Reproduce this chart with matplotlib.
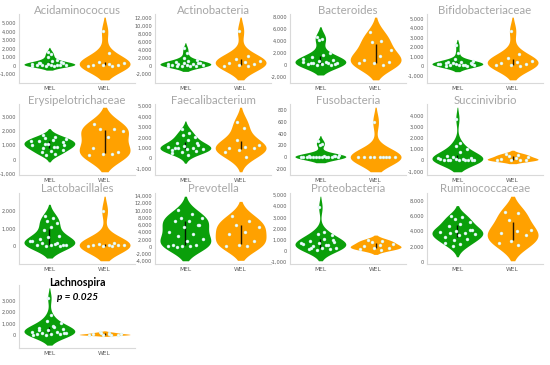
import numpy as np
import pandas as pd
import matplotlib
matplotlib.use("Agg")
import matplotlib.pyplot as plt
from matplotlib.ticker import FuncFormatter
import seaborn as sns

taxa = ["Acidaminococcus", "Actinobacteria", "Bacteroides", "Bifidobacteriaceae",
        "Erysipelotrichaceae", "Faecalibacterium", "Fusobacteria", "Succinivibrio",
        "Lactobacillales", "Prevotella", "Proteobacteria", "Ruminococcaceae",
        "Lachnospira"]
groups = ["MEL", "WEL"]

mel_values = [
    [1600, 1300, 1000, 700, 500, 300, 250, 200, 150, 100, 100, 80, 50, 30, 20, 10, 0, 0, 300, 400],
    [4500, 3300, 2000, 1500, 1200, 1000, 800, 700, 600, 500, 400, 300, 200, 200, 100, 100, 50, 0, 0, 800],
    [4600, 4300, 4200, 1900, 1600, 1300, 800, 600, 400, 300, 200, 200, 100, 50, 0, 0, 1000, 500, 250, 150],
    [2200, 1400, 700, 500, 400, 300, 300, 200, 200, 150, 100, 100, 50, 0, 0, 300, 200, 100, 400, 250],
    [1700, 1600, 1500, 1400, 1350, 1300, 1200, 1100, 1000, 900, 800, 700, 600, 500, 400, 1100, 1300, 900, 300, 1000],
    [2800, 2400, 2200, 2000, 1800, 1500, 1300, 1200, 1100, 1000, 1000, 900, 900, 800, 700, 600, 500, 300, 1000, 1500],
    [270, 230, 200, 30, 20, 20, 15, 10, 10, 5, 5, 0, 0, 0, 0, 0, 0, 0, 10, 20],
    [3700, 1500, 1300, 1000, 700, 400, 200, 100, 100, 50, 0, 0, 0, 0, 0, 300, 200, 100, 50, 10],
    [1700, 1600, 1400, 1300, 1100, 900, 600, 500, 300, 200, 200, 100, 100, 50, 0, 0, 300, 150, 400, 50],
    [10000, 9000, 8000, 7800, 7200, 7200, 6000, 5500, 4000, 3500, 3000, 2000, 1500, 500, 400, 300, 200, 100, 0, 6000],
    [3900, 1700, 1500, 1400, 1100, 900, 800, 700, 600, 500, 400, 300, 300, 200, 200, 100, 700, 500, 300, 1000],
    [6000, 5900, 5600, 5200, 5000, 4700, 4200, 4000, 3900, 3800, 3700, 3600, 3500, 3300, 3000, 2800, 2500, 2300, 2000, 4100],
    [3200, 1700, 1200, 1000, 800, 600, 500, 400, 300, 300, 200, 200, 100, 100, 50, 0, 0, 700, 400, 150],
]
wel_values = [
    [4000, 1500, 400, 300, 200, 100, 100, 50, 0, 0],
    [8800, 2600, 1800, 1200, 1000, 800, 500, 200, 100, 0],
    [5400, 4000, 3800, 2400, 1500, 800, 400, 300, 200, 0],
    [3700, 1300, 800, 500, 400, 300, 200, 100, 50, 0],
    [2500, 2100, 2100, 2000, 1600, 800, 500, 400, 300, 400],
    [3500, 2900, 1800, 1300, 1100, 1000, 1000, 800, 600, 100],
    [600, 10, 5, 5, 0, 0, 0, 0, 0, 0],
    [600, 500, 400, 300, 200, 100, 50, 0, 0, 0],
    [2000, 200, 150, 100, 100, 50, 50, 0, 0, 0],
    [8500, 7000, 6000, 5500, 4000, 3500, 1500, 500, 300, 200],
    [1000, 900, 800, 600, 500, 400, 300, 250, 200, 100],
    [6500, 6400, 5500, 4200, 4000, 3800, 3500, 2700, 2400, 2200],
    [250, 200, 150, 100, 80, 50, 30, 20, 10, 0],
]
# y tick (start, stop, step)
yticks = [
    (-1000, 5000, 1000), (-2000, 12000, 2000), (-2000, 8000, 2000), (-1000, 5000, 1000),
    (-1000, 3000, 1000), (-1000, 5000, 1000), (-200, 800, 200), (-1000, 4000, 1000),
    (0, 2000, 1000), (-4000, 14000, 2000), (-1000, 5000, 1000), (0, 8000, 2000),
    (0, 3000, 1000),
]
p_label = "p = 0.025"

colors = {"MEL": "#0A9F0A", "WEL": "#FFA100"}
VW = 0.92
BWA = 1.2
CUT = 1.75

W, H = 550, 365
fig = plt.figure(figsize=(W / 100, H / 100), dpi=100)

col_left = [19, 155, 290, 427]
col_w = 116
rows = [(14, 83), (104, 175), (193, 264), (285, 348)]

fmt = FuncFormatter(lambda v, p: f"{int(v):,}")


def rel_density(vals, at):
    n = len(vals)
    bw = BWA * n ** (-1 / 5) * np.std(vals, ddof=1)
    grid = np.linspace(vals.min() - CUT * bw, vals.max() + CUT * bw, 400)
    d = lambda x: np.exp(-0.5 * ((np.asarray(x)[:, None] - vals[None, :]) / bw) ** 2).sum(1)
    return d(at) / d(grid).max()


for i, name in enumerate(taxa):
    r, c = divmod(i, 4)
    top, bot = rows[r]
    ax = fig.add_axes([col_left[c] / W, 1 - bot / H, col_w / W, (bot - top) / H])
    df = pd.DataFrame({
        "g": ["MEL"] * len(mel_values[i]) + ["WEL"] * len(wel_values[i]),
        "v": mel_values[i] + wel_values[i],
    })
    sns.violinplot(data=df, x="g", y="v", hue="g", order=groups, hue_order=groups,
                   palette=colors, inner=None, density_norm="width", cut=CUT,
                   bw_adjust=BWA, width=VW, linewidth=0, saturation=1, legend=False, ax=ax)
    for k, g in enumerate(groups):
        vals = np.array(mel_values[i] if g == "MEL" else wel_values[i], dtype=float)
        q1, q3 = np.percentile(vals, [25, 75])
        ax.plot([k, k], [q1, q3], color="black", lw=1.0, solid_capstyle="butt", zorder=3,
                alpha=0.85)
        n = len(vals)
        u = ((np.arange(n) * 0.6180339 + 0.13) % 1 - 0.5) * 2
        offs = u * 0.8 * (VW / 2) * rel_density(vals, vals)
        ax.scatter(k + offs, vals, s=4.5, facecolor="#f4ffff", edgecolor="#c8eeee",
                   linewidth=0.3, zorder=4)
    s0, s1, st = yticks[i]
    ax.set_yticks(np.arange(s0, s1 + st, st))
    ax.yaxis.set_major_formatter(fmt)
    ax.set_xlim(-0.55, 1.55)
    ax.set_xlabel("")
    ax.set_ylabel("")
    ax.tick_params(axis="both", length=0, labelsize=3.6, labelcolor="#595959", pad=2)
    ax.tick_params(axis="x", labelsize=4.2, pad=2)
    for sp in ["top", "right"]:
        ax.spines[sp].set_visible(False)
    for sp in ["left", "bottom"]:
        ax.spines[sp].set_color("#D9D9D9")
        ax.spines[sp].set_linewidth(0.8)
    ax.set_facecolor("none")
    cx = (col_left[c] + col_w / 2) / W
    if name == "Lachnospira":
        fig.text(cx, 1 - 283 / H, name, ha="center", va="center",
                 fontsize=7.6, fontweight="bold", color="black", family="Lato")
        fig.text(cx, 1 - 297 / H, p_label, ha="center", va="center",
                 fontsize=7.2, fontweight="bold", style="italic", color="black", family="Lato")
    else:
        fig.text(cx, 1 - (top - 4) / H, name, ha="center",
                 va="center", fontsize=8.2, color="#A6A6A6", family="Lato")

fig.savefig("out.png", dpi=100)
